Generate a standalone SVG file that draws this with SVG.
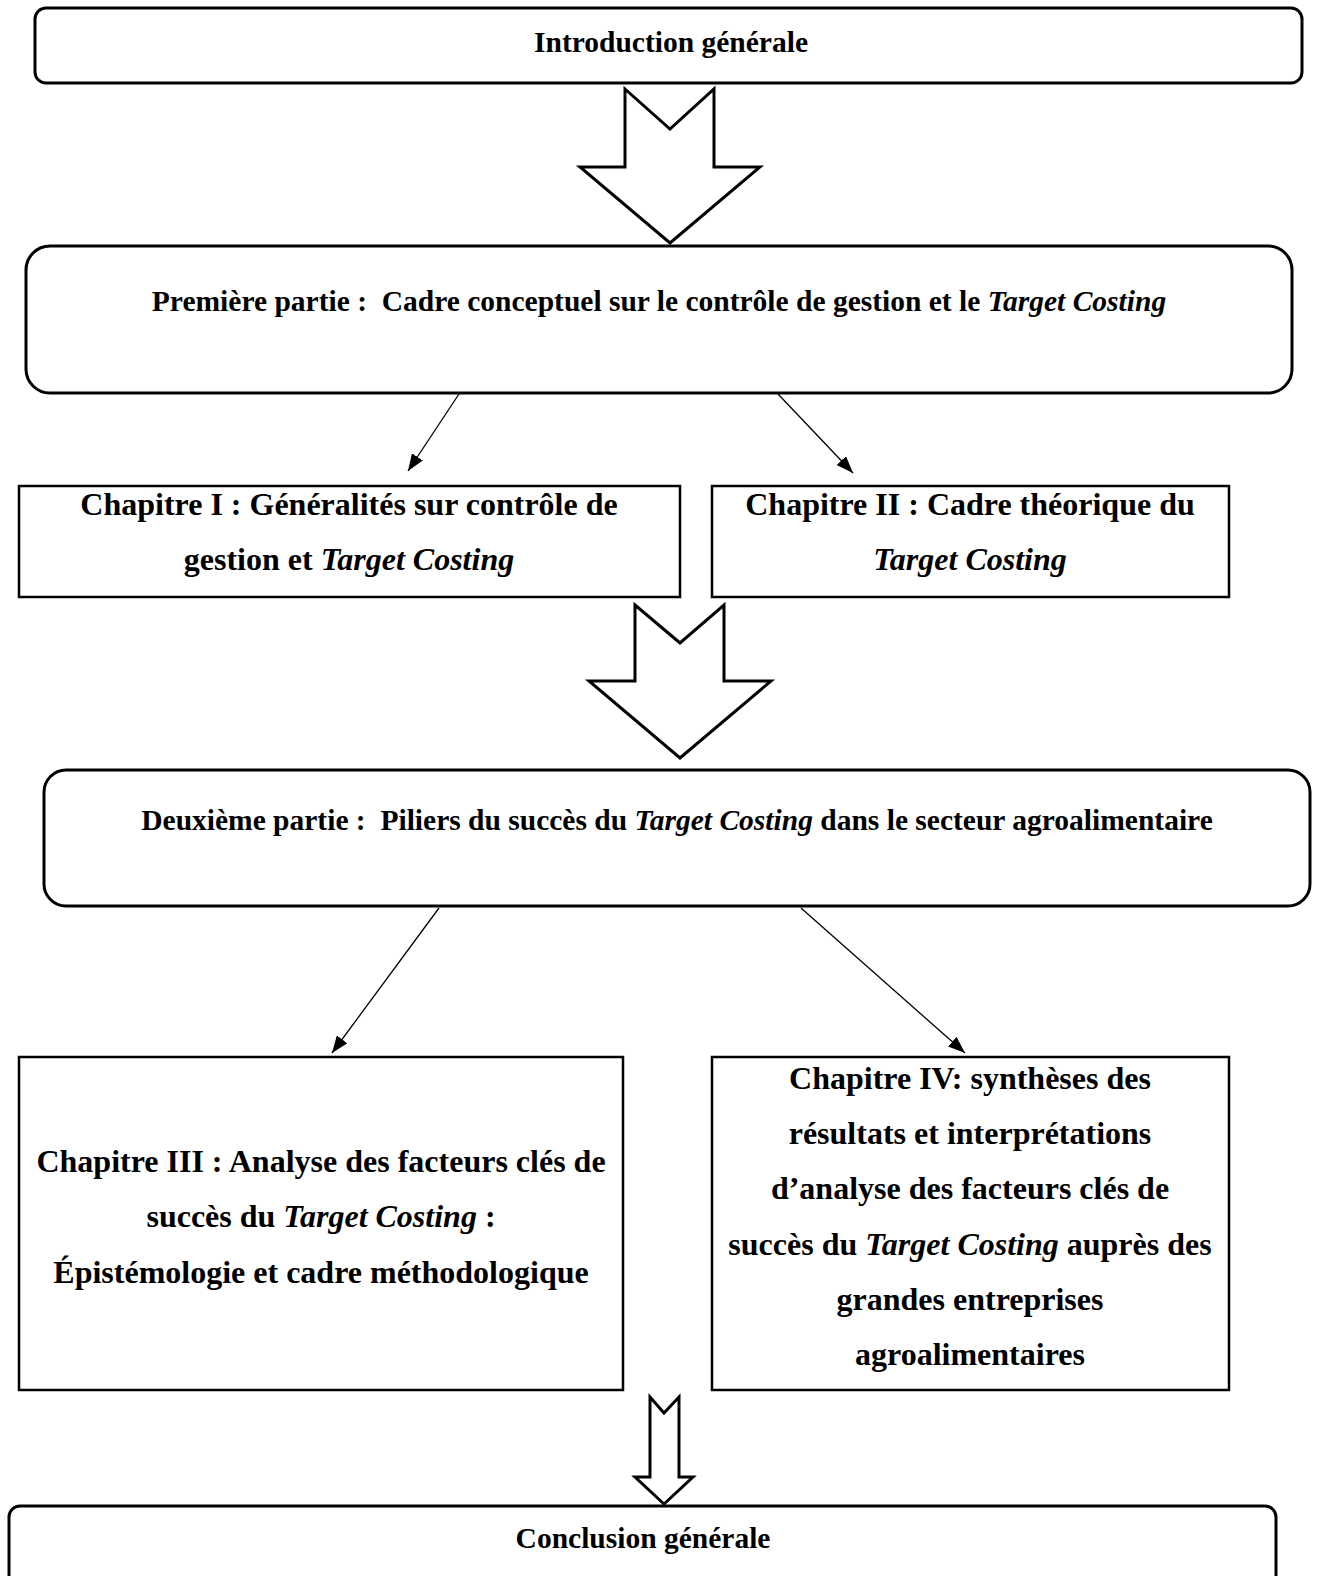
<svg xmlns="http://www.w3.org/2000/svg" width="1317" height="1576" viewBox="0 0 1317 1576">
<style>
.box{fill:#fff;stroke:#000;stroke-width:3}
.rect{fill:#fff;stroke:#000;stroke-width:2.5}
.big{fill:#fff;stroke:#000;stroke-width:3;stroke-linejoin:miter}
.con{stroke:#000;stroke-width:1.3;fill:none;marker-end:url(#ah)}
text{font-family:"Liberation Serif","Times New Roman",serif;font-weight:bold;fill:#000;text-anchor:middle}
.p{font-size:29.5px}
.c{font-size:32px}
.i{font-style:italic}
</style>
<defs>
<marker id="ah" viewBox="0 0 17 13" refX="17" refY="6.5" markerWidth="17" markerHeight="13" markerUnits="userSpaceOnUse" orient="auto">
<path d="M0,0 L17,6.5 L0,13 Z" fill="#000"/>
</marker>
</defs>
<rect width="1317" height="1576" fill="#fff"/>

<g id="intro">
<rect class="box" x="35" y="8" width="1267" height="75" rx="11"/>
<text class="p" x="671" y="52">Introduction générale</text>
</g>

<g id="arrow1"><polygon class="big" points="625,89 670,129 714,89 714,167 760,167 670,243 580,167 625,167"/></g>

<g id="partie1">
<rect class="box" x="26" y="246" width="1266" height="147" rx="24"/>
<text class="p" x="659" y="311" xml:space="preserve">Première partie :  Cadre conceptuel sur le contrôle de gestion et le <tspan class="i">Target Costing</tspan></text>
</g>

<g id="chap1">
<rect class="rect" x="19" y="486" width="661" height="111"/>
<text class="c" x="349" y="515">Chapitre I : Généralités sur contrôle de</text>
<text class="c" x="349" y="570">gestion et <tspan class="i">Target Costing</tspan></text>
</g>

<g id="chap2">
<rect class="rect" x="712" y="486" width="517" height="111"/>
<text class="c" x="970" y="515">Chapitre II : Cadre théorique du</text>
<text class="c i" x="970" y="570">Target Costing</text>
</g>

<g id="arrow2"><polygon class="big" points="635,605 680,643 724,605 724,681 771,681 680,758 589,681 635,681"/></g>

<g id="partie2">
<rect class="box" x="44" y="770" width="1266" height="136" rx="22"/>
<text class="p" x="677" y="830" xml:space="preserve">Deuxième partie :  Piliers du succès du <tspan class="i">Target Costing</tspan> dans le secteur agroalimentaire</text>
</g>

<g id="chap3">
<rect class="rect" x="19" y="1057" width="604" height="333"/>
<text class="c" x="321" y="1172">Chapitre III : Analyse des facteurs clés de</text>
<text class="c" x="321" y="1227">succès du <tspan class="i">Target Costing</tspan> :</text>
<text class="c" x="321" y="1283">Épistémologie et cadre méthodologique</text>
</g>

<g id="chap4">
<rect class="rect" x="712" y="1057" width="517" height="333"/>
<text class="c" x="970" y="1089">Chapitre IV: synthèses des</text>
<text class="c" x="970" y="1144">résultats et interprétations</text>
<text class="c" x="970" y="1199">d’analyse des facteurs clés de</text>
<text class="c" x="970" y="1255">succès du <tspan class="i">Target Costing</tspan> auprès des</text>
<text class="c" x="970" y="1310">grandes entreprises</text>
<text class="c" x="970" y="1365">agroalimentaires</text>
</g>

<g id="arrow3"><polygon class="big" stroke-width="2.5" points="650,1397 664,1413 679,1397 679,1477 693,1477 664,1504 635,1477 650,1477"/></g>

<g id="conclusion">
<rect class="box" x="9" y="1506" width="1267" height="90" rx="11"/>
<text class="p" x="643" y="1548">Conclusion générale</text>
</g>

<g id="connectors">
<line class="con" x1="459" y1="394" x2="408" y2="471"/>
<line class="con" x1="778" y1="394" x2="853" y2="473"/>
<line class="con" x1="439" y1="908" x2="332" y2="1053"/>
<line class="con" x1="801" y1="908" x2="965" y2="1053"/>
</g>
</svg>
